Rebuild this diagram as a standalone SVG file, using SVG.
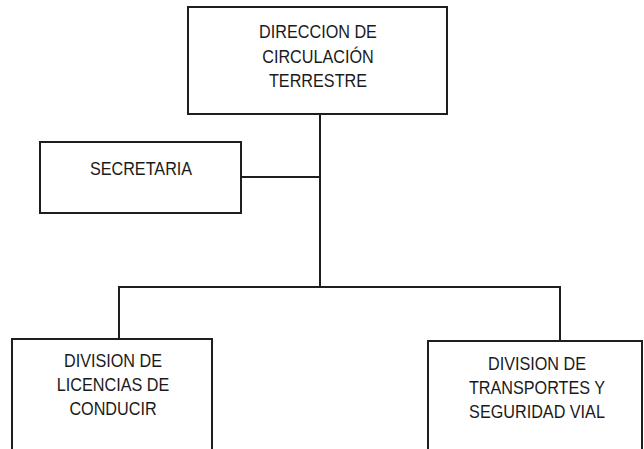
<svg xmlns="http://www.w3.org/2000/svg" width="644" height="449" viewBox="0 0 644 449">
<style>
.box{fill:none;stroke:#1e1e1e;stroke-width:2}
.ln{fill:none;stroke:#1e1e1e;stroke-width:2}
text{font-family:"Liberation Sans",Arial,sans-serif;font-size:18px;fill:#1a1a1a;text-anchor:middle}
</style>
<rect width="644" height="449" fill="#ffffff"/>
<g id="connectors">
<path class="ln" d="M320 114 V287"/>
<path class="ln" d="M241 177 H320"/>
<path class="ln" d="M119 339 V287 H560 V341"/>
</g>
<g id="direccion">
<rect class="box" x="188" y="7" width="259" height="107"/>
<g transform="translate(318 0) scale(0.9 1)">
<text x="0" y="38">DIRECCION DE</text>
<text x="0" y="63">CIRCULACIÓN</text>
<text x="0" y="87">TERRESTRE</text>
</g>
</g>
<g id="secretaria">
<rect class="box" x="40" y="142" width="201" height="71"/>
<g transform="translate(141 0) scale(0.9 1)">
<text x="0" y="175">SECRETARIA</text>
</g>
</g>
<g id="licencias">
<rect class="box" x="12" y="339" width="200" height="112"/>
<g transform="translate(113 0) scale(0.9 1)">
<text x="0" y="367">DIVISION DE</text>
<text x="0" y="391">LICENCIAS DE</text>
<text x="0" y="415">CONDUCIR</text>
</g>
</g>
<g id="transportes">
<rect class="box" x="428" y="341" width="214" height="112"/>
<g transform="translate(537 0) scale(0.9 1)">
<text x="0" y="370">DIVISION DE</text>
<text x="0" y="394">TRANSPORTES Y</text>
<text x="0" y="418">SEGURIDAD VIAL</text>
</g>
</g>
</svg>
